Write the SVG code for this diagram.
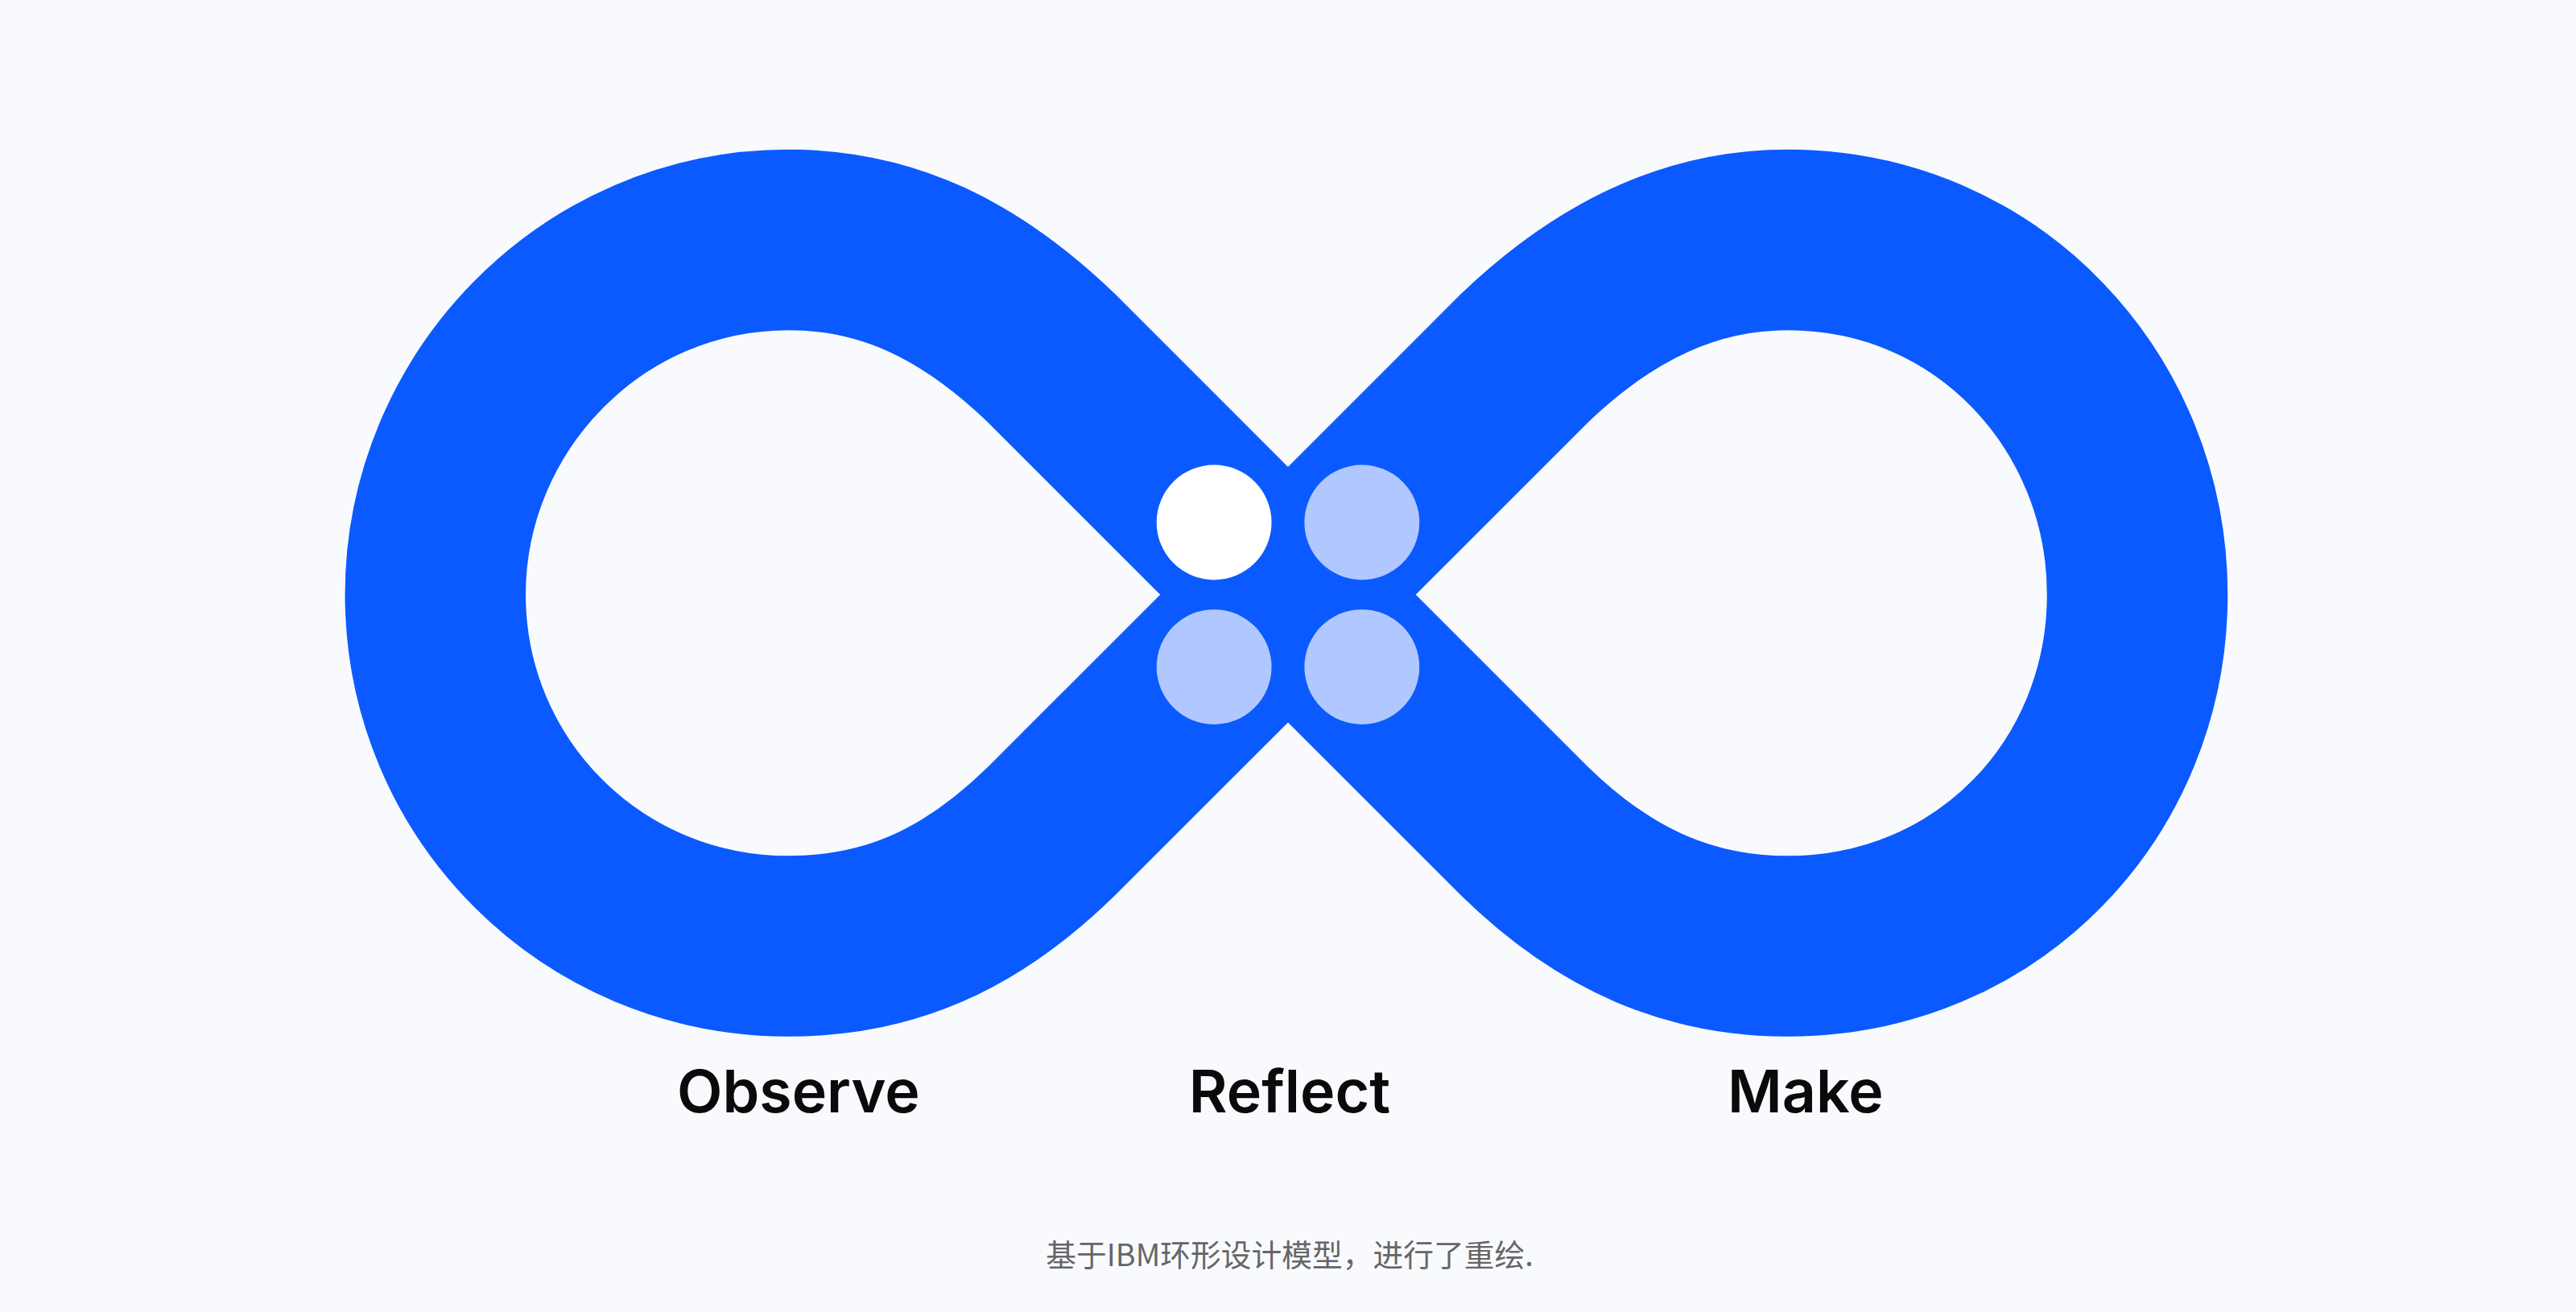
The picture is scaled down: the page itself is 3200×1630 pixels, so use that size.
<svg xmlns="http://www.w3.org/2000/svg" width="3200" height="1630" viewBox="0 0 3200 1630">
<style>
.lbl{font-family:"Inter","Liberation Sans",sans-serif;font-weight:600;font-size:36px;fill:#0a0a0a;text-anchor:middle}
.cap{font-family:"Noto Sans CJK SC","Noto Sans",sans-serif;font-size:18.5px;fill:#666;text-anchor:middle}
.dot{fill:#B0C8FF}
</style>
<rect width="3200" height="1630" fill="#F8FAFE"/>
<g transform="scale(2.0408)">
<g id="connectors">
<path id="loop" d="M784,362 L640,218 C590,170 540,146 480,146 C360,146 265,245 265,362 C265,480 360,576 480,576 C540,576 590,555 640,506 L784,362 L928,218 C978,170 1030,146 1088,146 C1210,146 1301,245 1301,362 C1301,480 1210,576 1088,576 C1030,576 978,555 928,506 Z" fill="none" stroke="#0A5AFF" stroke-width="110" stroke-linejoin="miter"/>
</g>
<g id="dots">
<circle cx="739" cy="318" r="35" fill="#FFFFFF"/>
<circle class="dot" cx="829" cy="318" r="35"/>
<circle class="dot" cx="739" cy="406" r="35"/>
<circle class="dot" cx="829" cy="406" r="35"/>
</g>
<g id="observe"><text class="lbl" x="486" y="677">Observe</text></g>
<g id="reflect"><text class="lbl" x="785" y="677">Reflect</text></g>
<g id="make"><text class="lbl" x="1099" y="677">Make</text></g>
<g id="caption"><text class="cap" x="785" y="771">基于IBM环形设计模型，进行了重绘.</text></g>
</g>
</svg>
